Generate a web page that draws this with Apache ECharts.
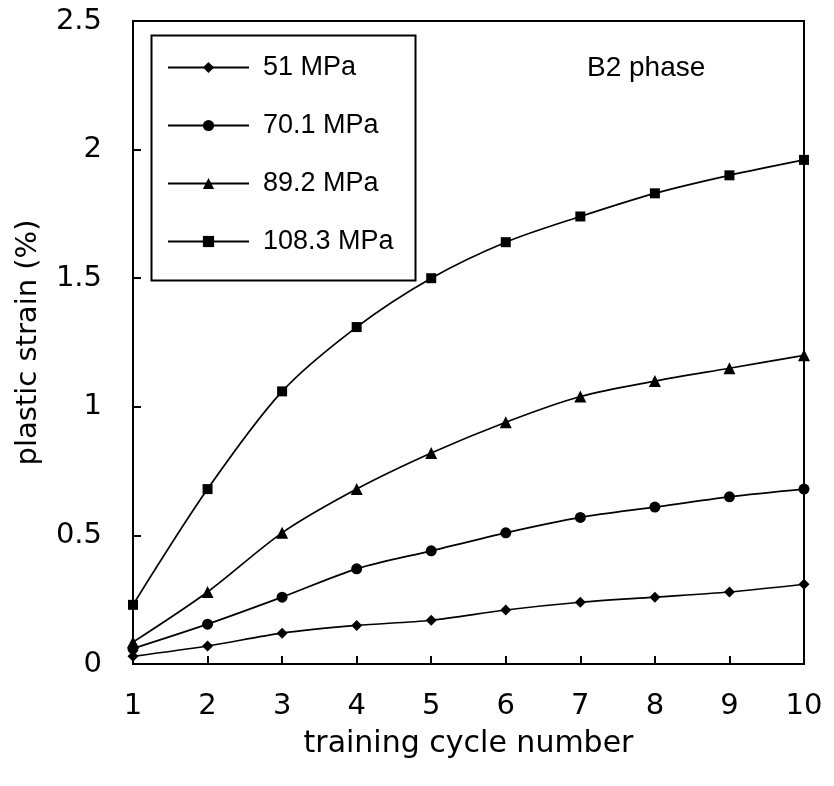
<!DOCTYPE html>
<html>
<head>
<meta charset="utf-8">
<script src="https://cdn.jsdelivr.net/npm/echarts@6/dist/echarts.min.js"></script>
<style>html,body{margin:0;padding:0;background:#fff}#c{width:834px;height:786px}</style>
</head>
<body>
<div id="c"></div>
<script>
const cycles = [1, 2, 3, 4, 5, 6, 7, 8, 9, 10];
const seriesNames = ['51 MPa', '70.1 MPa', '89.2 MPa', '108.3 MPa'];
const s51 = [0.03, 0.07, 0.12, 0.15, 0.17, 0.21, 0.24, 0.26, 0.28, 0.31];
const s70 = [0.06, 0.155, 0.26, 0.37, 0.44, 0.51, 0.57, 0.61, 0.65, 0.68];
const s89 = [0.085, 0.28, 0.51, 0.68, 0.82, 0.94, 1.04, 1.10, 1.15, 1.20];
const s108 = [0.23, 0.68, 1.06, 1.31, 1.50, 1.64, 1.74, 1.83, 1.90, 1.96];
const yTicks = [0, 0.5, 1, 1.5, 2, 2.5];

const symbols = ['diamond', 'circle', 'triangle', 'rect'];
const sizes = [11, 11, 12, 10];
const allData = [s51, s70, s89, s108];
const arial = 'Liberation Sans, Arial, sans-serif';
const wide = 'DejaVu Sans, sans-serif';

const chart = echarts.init(document.getElementById('c'));
chart.setOption({
  animation: false,
  backgroundColor: '#fff',
  textStyle: { fontFamily: arial, color: '#000' },
  grid: { left: 133, right: 30, top: 21, bottom: 122, show: true, borderColor: '#000', borderWidth: 2 },
  legend: {
    orient: 'vertical',
    left: 149, top: 33,
    padding: [21, 20, 20, 18],
    itemGap: 31,
    itemWidth: 81,
    itemHeight: 14,
    borderWidth: 0,
    textStyle: { fontFamily: arial, fontSize: 27, lineHeight: 27, color: '#000', padding: [0, 0, 0, 9] },
    data: seriesNames
  },
  graphic: [
    {
      type: 'rect', left: 149, top: 33, z: 10, silent: true,
      shape: { width: 264, height: 245 },
      style: { fill: 'none', stroke: '#000', lineWidth: 2 }
    },
    {
      type: 'text', left: 587, top: 54,
      style: { text: 'B2 phase', fontFamily: arial, fontSize: 28, fill: '#000' }
    }
  ],
  xAxis: {
    type: 'value', min: 1, max: 10, interval: 1,
    name: 'training cycle number', nameLocation: 'middle', nameGap: 65,
    nameTextStyle: { fontFamily: wide, fontSize: 30, color: '#000' },
    axisLine: { lineStyle: { color: '#000', width: 2 } },
    axisTick: { inside: true, length: 8, lineStyle: { color: '#000', width: 2 } },
    axisLabel: { fontFamily: wide, fontSize: 29, color: '#000', margin: 28 },
    splitLine: { show: false }
  },
  yAxis: {
    type: 'value', min: 0, max: 2.5, interval: 0.5,
    name: 'plastic strain (%)', nameLocation: 'middle', nameGap: 90,
    nameTextStyle: { fontFamily: wide, fontSize: 29, color: '#000' },
    axisLine: { lineStyle: { color: '#000', width: 2 } },
    axisTick: { inside: true, length: 8, lineStyle: { color: '#000', width: 2 } },
    axisLabel: { fontFamily: wide, fontSize: 29, color: '#000', margin: 31,
      formatter: v => yTicks.includes(v) ? String(v) : '' },
    splitLine: { show: false }
  },
  series: seriesNames.map((n, i) => ({
    name: n,
    type: 'line',
    smooth: 0.3,
    symbol: symbols[i],
    symbolSize: sizes[i],
    showAllSymbol: true,
    clip: false,
    itemStyle: { color: '#000' },
    lineStyle: { color: '#000', width: 1.7 },
    data: cycles.map((c, j) => [c, allData[i][j]])
  }))
});
</script>
</body>
</html>
